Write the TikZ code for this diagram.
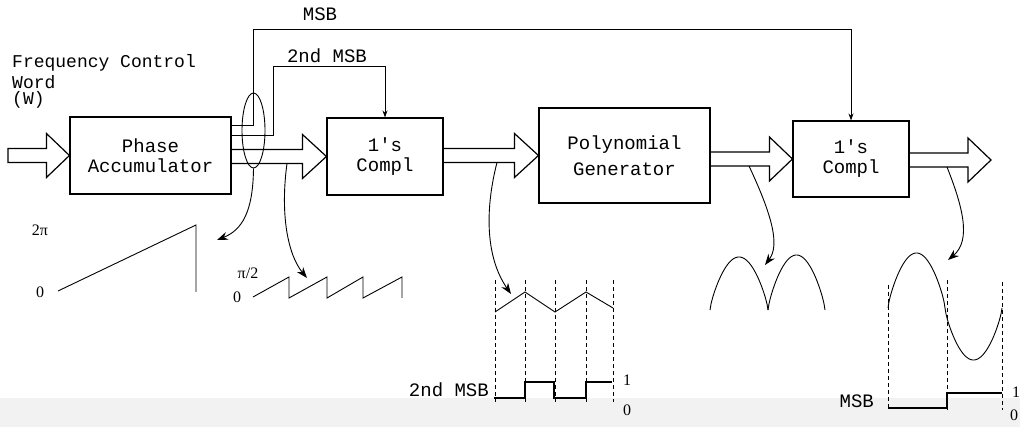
\documentclass[tikz,border=0pt]{standalone}
\usepackage{fontspec}
\newfontfamily\mono{Liberation Mono}
\newfontfamily\serif{Liberation Serif}
\usetikzlibrary{arrows.meta,calc,shapes.geometric}
\newcommand\fatarr[3]{%
  \draw[fat] ($(#1)+(0,-7)$) -- ($(#2)+(-#3,-7)$) -- ($(#2)+(-#3,-22)$) -- (#2)
    -- ($(#2)+(-#3,22)$) -- ($(#2)+(-#3,7)$) -- ($(#1)+(0,7)$);}
\begin{document}
\begin{tikzpicture}[x=1pt,y=-1pt,
  blk/.style={draw,line width=1.1pt,inner sep=0pt,align=center,
    font=\mono\fontsize{19}{20}\selectfont},
  fat/.style={line width=1.2pt,line join=miter},
  sig/.style={line width=1pt,-{Stealth[length=7pt,width=5pt]}},
  crv/.style={line width=0.9pt,-{Stealth[length=11pt,width=8pt]}},
  lbl/.style={font=\mono\fontsize{19}{20}\selectfont,inner sep=0pt},
  num/.style={font=\serif\fontsize{16}{18}\selectfont,inner sep=0pt},
  dsh/.style={line width=1pt,dash pattern=on 4pt off 3pt},
  wave/.style={line width=0.9pt}]
\useasboundingbox (0,0) rectangle (1020,427);
\fill[black!5] (0,398) rectangle (1020,427);

% blocks
\node[blk,minimum width=161pt,minimum height=77pt] (pa) at (150.5,155.5) {Phase\\Accumulator};
\node[blk,minimum width=116pt,minimum height=77pt] (b1) at (385,156.5) {1's\\Compl};
\node[blk,minimum width=171pt,minimum height=95pt] (poly) at (624.5,155.5) {Polynomial\\[6pt]Generator};
\node[blk,minimum width=116pt,minimum height=76pt] (b2) at (851,159) {1's\\Compl};

% labels
\node[lbl,align=left,anchor=north west,font=\mono\fontsize{18}{16}\selectfont] (fcw) at (12,54)
  {Frequency Control\\[3pt]Word\\(W)};
\node[lbl,anchor=base] (msbl) at (320,21) {MSB};
\node[lbl,anchor=base] (msb2l) at (327,63) {2nd MSB};

% fat arrows
\coordinate (in) at (8,155.5);
\draw[fat] ($(in)+(0,-7)$) -- ($(pa.west)+(-23,-7)$) -- ($(pa.west)+(-23,-22)$) -- (pa.west)
  -- ($(pa.west)+(-23,22)$) -- ($(pa.west)+(-23,7)$) -- ($(in)+(0,7)$) -- cycle;
\coordinate (s1) at (pa.east |- b1.west);
\coordinate (s2) at (b1.east |- poly.west);
\coordinate (s3) at (poly.east |- b2.west);
\coordinate (out) at (991,160);
\coordinate (s4) at (b2.east |- out);
\fatarr{s1}{b1.west}{24}
\fatarr{s2}{poly.west}{24}
\fatarr{s3}{b2.west}{23}
\fatarr{s4}{out}{23}

% MSB taps
\draw[sig] (pa.east |- 0,126) -- (253,126) -- (253,30) -| (b2.north);
\draw[sig] (pa.east |- 0,136) -- (273,136) -- (273,67) -| (b1.north);
\node[draw,line width=0.9pt,ellipse,inner sep=0pt,minimum width=23pt,minimum height=75pt] (ell) at (253.5,130.5) {};

% curved pointers
\coordinate (t2) at (287,163.5);
\coordinate (t3) at (497,162.5);
\coordinate (t4) at (749,166);
\coordinate (t5) at (947,167);
\coordinate (p1) at (217,240);
\coordinate (p2) at (307,278);
\coordinate (p3) at (511,294);
\coordinate (p4) at (765,265);
\coordinate (p5) at (948,260);
\draw[crv] (ell.south) .. controls (253,212) and (242,230) .. (p1);
\draw[crv] (t2) .. controls (280,215) and (288,255) .. (p2);
\draw[crv] (t3) .. controls (486,205) and (484,255) .. (p3);
\draw[crv] (t4) .. controls (772,215) and (780,245) .. (p4);
\draw[crv] (t5) .. controls (962,205) and (972,240) .. (p5);

% phase ramp
\draw[wave] (58,291) -- (196,225) -- (196,292);
\node[num] (l2pi) at (40,230) {2π};
\node[num] (l0a) at (40,292) {0};

% sawtooth
\draw[wave] (253,297) -- (289,277) -- (289,298) -- (327,277) -- (327,298)
  -- (363,277) -- (363,298) -- (402,277) -- (402,298);
\node[num] (lpi2) at (248,273) {π/2};
\node[num] (l0b) at (237,297) {0};

% triangle + 2nd MSB
\foreach \x in {495,525,555,586,613} \draw[dsh] (\x,280) -- (\x,402);
\draw[wave] (495,312) -- (525,292) -- (555,312) -- (586,292) -- (613,308);
\draw[line width=1.1pt] (494,398) -- (525,398) -- (525,382) -- (554,382) -- (554,398)
  -- (586,398) -- (586,382) -- (612,382);
\node[lbl,anchor=base east] (sq1) at (489,397) {2nd MSB};
\node[num] (one1) at (627,380) {1};
\node[num] (zero1) at (627,410) {0};

% arches
\draw[wave] plot[domain=0:180,samples=60] ({710+58*\x/180},{310-53*pow(abs(sin(\x)),0.75)});
\draw[wave] plot[domain=0:180,samples=60] ({768+57*\x/180},{310-55*pow(abs(sin(\x)),0.75)});

% sine + MSB
\foreach \x/\t in {888/285,947/280,1002/282} \draw[dsh] (\x,\t) -- (\x,410);
\draw[wave] plot[domain=0:180,samples=60] ({888+57*\x/180},{308-55*pow(abs(sin(\x)),0.75)});
\draw[wave] plot[domain=0:180,samples=60] ({945+57*\x/180},{308+52*pow(abs(sin(\x)),0.75)});
\draw[line width=1.1pt] (888,408) -- (947,408) -- (947,393) -- (1002,393);
\node[lbl,anchor=base east] (sq2) at (874,408) {MSB};
\node[num] (one2) at (1016,392) {1};
\node[num] (zero2) at (1014,415) {0};
\end{tikzpicture}
\end{document}
